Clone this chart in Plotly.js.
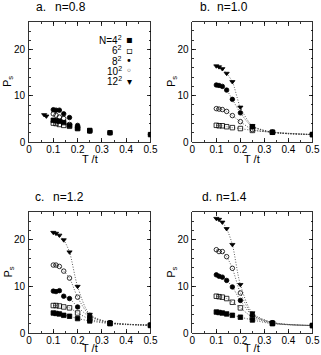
<!DOCTYPE html>
<html>
<head>
<meta charset="utf-8">
<script src="https://cdn.plot.ly/plotly-3.0.1.min.js"></script>
<style>html,body{margin:0;padding:0;background:#fff;}#chart{width:321px;height:355px;}</style>
</head>
<body>
<div id="chart"></div>
<script>
// Temperatures T/t = 1/beta
const T = [0.1, 0.1111, 0.125, 0.1429, 0.1667, 0.2, 0.25, 0.3333, 0.5];
const T_low = [0.0625, 0.0714];

// Panel a: n = 0.8 (symbols only)
const a_N4  = [4.7, 4.6, 4.5, 4.2, 3.6, 3.0, 2.5, 2.0, 1.6];
const a_N6  = [4.1, 4.0, 3.8, 3.6, 3.4, 2.9, 2.4];
const a_N8  = [7.0, 6.9, 6.9, 6.1, 5.3, 3.6, 2.4, 2.0, 1.6];
const a_N10 = [6.1, 5.8, 5.4, 5.1, 3.8, 3.2];
const a_N12 = [5.9, 5.6];

// Panel b: n = 1.0
const b_N4  = [3.3, 2.1, 1.6];
const b_N6  = [3.6, 3.5, 3.5, 3.3, 3.1, 2.9, 2.5, 2.1, 1.6];
const b_N8  = [12.3, 12.2, 12.0, 11.2, 9.2, 6.3, 3.3, 2.1, 1.6];
const b_N10 = [7.2, 7.1, 7.0, 6.6, 5.7, 4.4, 2.7, 2.1, 1.6];
const b_N12 = [16.4, 16.2, 15.8, 14.8, 13.0, 7.5, 3.5, 2.1, 1.6];

// Panel c: n = 1.2
const c_N4  = [4.3, 4.2, 4.1, 3.8, 3.6, 3.1, 2.6, 2.0, 1.6];
const c_N6  = [5.9, 5.9, 5.8, 5.6, 5.4, 4.3, 3.0, 2.1, 1.7];
const c_N8  = [9.0, 8.9, 9.1, 7.9, 7.4, 5.6, 3.5, 2.2, 1.7];
const c_N10 = [14.6, 14.6, 14.3, 13.3, 11.8, 7.7, 3.8, 2.2, 1.7];
const c_N12 = [21.6, 21.4, 21.0, 20.0, 17.4, 10.0, 4.0, 2.3, 1.7];

// Panel d: n = 1.4
const d_N4  = [4.5, 4.4, 4.3, 4.1, 3.8, 3.4, 2.8, 2.0, 1.6];
const d_N6  = [7.9, 7.8, 7.7, 7.4, 6.6, 5.4, 3.4, 2.1, 1.6];
const d_N8  = [12.5, 12.2, 12.0, 11.3, 9.9, 7.0, 3.8, 2.2, 1.6];
const d_N10 = [17.9, 17.5, 17.5, 16.4, 13.9, 8.6, 4.0, 2.2, 1.6];
const d_N12 = [24.6, 24.4, 23.8, 22.4, 19.0, 10.4, 4.3, 2.3, 1.6];

const panelTitles = [["a.", "n=0.8"], ["b.", "n=1.0"], ["c.", "n=1.2"], ["d.", "n=1.4"]];
const legendLabels = ["N=4<sup>2</sup>", "6<sup>2</sup>", "8<sup>2</sup>", "10<sup>2</sup>", "12<sup>2</sup>"];
const legendGlyphs = ["\u25AA", "\u25AB", "\u2022", "\u25E6", "\u25BE"];
const xTickVals = [0, 0.1, 0.2, 0.3, 0.4, 0.5];
const yTickVals = [0, 10, 20];

const W = 321, H = 355;
const px = v => v / W;
const py = v => 1 - v / H;

const symbols = ["square", "square-open", "circle", "circle-open", "triangle-down"];
const msize = [4.5, 4.5, 4.5, 4.5, 4.5];

function series(x, y, k, ax, withLine) {
  return {
    x: x, y: y, xaxis: ax[0], yaxis: ax[1], type: "scatter",
    mode: withLine ? "lines+markers" : "markers",
    line: {color: "#333", width: 0.8, dash: "1px,1.6px", shape: "spline", smoothing: 0.8},
    marker: {symbol: symbols[k], size: msize[k], color: "#000", line: {color: "#000", width: 0.8}},
    showlegend: false, hoverinfo: "skip"
  };
}

const axA = ["x", "y"], axB = ["x2", "y2"], axC = ["x3", "y3"], axD = ["x4", "y4"];
const data = [
  series(T, a_N4, 0, axA, false),
  series(T.slice(0, 7), a_N6, 1, axA, false),
  series(T, a_N8, 2, axA, false),
  series(T.slice(0, 6), a_N10, 3, axA, false),
  series(T_low, a_N12, 4, axA, false),

  series(T.slice(6), b_N4, 0, axB, true),
  series(T, b_N6, 1, axB, true),
  series(T, b_N8, 2, axB, true),
  series(T, b_N10, 3, axB, true),
  series(T, b_N12, 4, axB, true),

  series(T, c_N4, 0, axC, true),
  series(T, c_N6, 1, axC, true),
  series(T, c_N8, 2, axC, true),
  series(T, c_N10, 3, axC, true),
  series(T, c_N12, 4, axC, true),

  series(T, d_N4, 0, axD, true),
  series(T, d_N6, 1, axD, true),
  series(T, d_N8, 2, axD, true),
  series(T, d_N10, 3, axD, true),
  series(T, d_N12, 4, axD, true)
];

const font = {family: "Liberation Sans, Arial, sans-serif", size: 10, color: "#000"};

function xax(x0, x1, anchor) {
  return {
    domain: [px(x0), px(x1)], anchor: anchor, range: [0, 0.5],
    tickvals: xTickVals, ticktext: xTickVals.map(v => v === 0 ? "0" : v.toFixed(1)),
    ticks: "inside", ticklen: 4, tickwidth: 0.8, tickcolor: "#000",
    minor: {dtick: 0.05, ticks: "inside", ticklen: 2, tickwidth: 0.8, tickcolor: "#000"},
    showline: true, linecolor: "#000", linewidth: 0.8, mirror: "ticks",
    showgrid: false, zeroline: false, tickfont: font, fixedrange: true, ticklabelstandoff: -2
  };
}
function yax(y0, y1, anchor) {
  return {
    domain: [py(y1), py(y0)], anchor: anchor, range: [0, 26],
    tickvals: yTickVals,
    ticks: "inside", ticklen: 4, tickwidth: 0.8, tickcolor: "#000",
    minor: {dtick: 2, ticks: "inside", ticklen: 2, tickwidth: 0.8, tickcolor: "#000"},
    showline: true, linecolor: "#000", linewidth: 0.8, mirror: "ticks",
    showgrid: false, zeroline: false, tickfont: font, fixedrange: true, ticklabelstandoff: 1
  };
}

const panels = [
  {x0: 29, x1: 150.5, y0: 22, y1: 142, tx: [41, 70], ty: 7, xt: 159},
  {x0: 192.3, x1: 312.5, y0: 21.5, y1: 142, tx: [205, 232], ty: 7, xt: 159},
  {x0: 29, x1: 150.5, y0: 212, y1: 333, tx: [39, 68], ty: 197, xt: 348},
  {x0: 192.3, x1: 312.5, y0: 212, y1: 333, tx: [207, 231], ty: 197, xt: 348}
];

const annotations = [];
panels.forEach((p, i) => {
  const tf = {family: font.family, size: 12, color: "#000"};
  const af = {family: font.family, size: 11, color: "#000"};
  annotations.push({xref: "paper", yref: "paper", x: px(p.tx[0]), y: py(p.ty), text: panelTitles[i][0], showarrow: false, xanchor: "center", yanchor: "middle", font: tf});
  annotations.push({xref: "paper", yref: "paper", x: px(p.tx[1]), y: py(p.ty), text: panelTitles[i][1], showarrow: false, xanchor: "center", yanchor: "middle", font: tf});
  annotations.push({xref: "paper", yref: "paper", x: px((p.x0 + p.x1) / 2), y: py(p.xt), text: "T /t", showarrow: false, xanchor: "center", yanchor: "middle", font: af});
  annotations.push({xref: "paper", yref: "paper", x: px(p.x0 - 21), y: py((p.y0 + p.y1) / 2), text: "P<sub>s</sub>", showarrow: false, xanchor: "center", yanchor: "middle", textangle: -90, font: af});
});
// legend of panel a (text followed by symbol)
const legY = [40, 50.3, 60.6, 70.9, 81.2];
legendLabels.forEach((t, i) => {
  annotations.push({xref: "paper", yref: "paper", x: px(124), y: py(legY[i]), text: t, showarrow: false, xanchor: "right", yanchor: "middle", font: {family: font.family, size: 10, color: "#000"}});
  annotations.push({xref: "paper", yref: "paper", x: px(129), y: py(legY[i]), text: legendGlyphs[i], showarrow: false, xanchor: "center", yanchor: "middle", font: {family: "DejaVu Sans", size: 10, color: "#000"}});
});

const layout = {
  width: W, height: H, margin: {l: 0, r: 0, t: 0, b: 0},
  paper_bgcolor: "#fff", plot_bgcolor: "#fff", showlegend: false,
  xaxis: xax(panels[0].x0, panels[0].x1, "y"),
  yaxis: yax(panels[0].y0, panels[0].y1, "x"),
  xaxis2: xax(panels[1].x0, panels[1].x1, "y2"),
  yaxis2: yax(panels[1].y0, panels[1].y1, "x2"),
  xaxis3: xax(panels[2].x0, panels[2].x1, "y3"),
  yaxis3: yax(panels[2].y0, panels[2].y1, "x3"),
  xaxis4: xax(panels[3].x0, panels[3].x1, "y4"),
  yaxis4: yax(panels[3].y0, panels[3].y1, "x4"),
  annotations: annotations,
  font: font
};

Plotly.newPlot("chart", data, layout, {displayModeBar: false, staticPlot: true});
</script>
</body>
</html>
